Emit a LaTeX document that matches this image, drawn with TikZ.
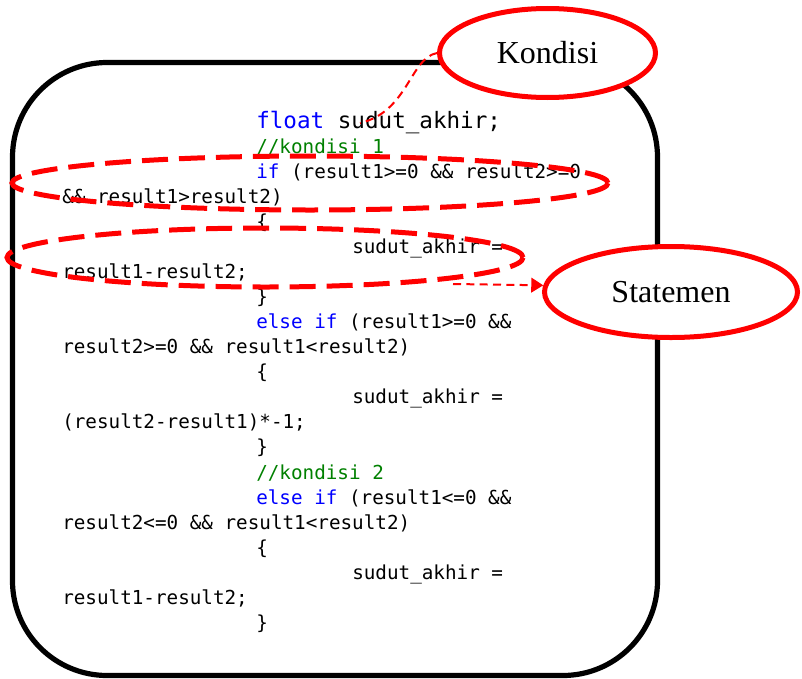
\documentclass[tikz,border=0pt]{standalone}
\usepackage{fontspec}
\setmainfont{Liberation Serif}
\newfontfamily\codefont{DejaVu Sans Mono}
\usetikzlibrary{shapes.geometric,arrows.meta}
\definecolor{kwblue}{RGB}{0,0,255}
\definecolor{cmgreen}{RGB}{0,128,0}
\definecolor{mred}{RGB}{255,0,0}
\begin{document}
\begin{tikzpicture}[x=0.75pt,y=-0.75pt,
  codeline/.style={anchor=base west,inner sep=0pt,font=\codefont\fontsize{14.45pt}{17pt}\selectfont},
  bigline/.style={anchor=base west,inner sep=0pt,font=\codefont\fontsize{16.94pt}{20pt}\selectfont},
  frame/.style={draw=black,line width=3.9pt,rounded corners=71pt},
  label/.style={ellipse,draw=mred,fill=white,line width=3.75pt,inner sep=0pt,font=\fontsize{24pt}{28pt}\selectfont},
  markell/.style={ellipse,draw=mred,line width=3.75pt,inner sep=0pt,dash pattern=on 19.5pt off 8.25pt},
  conn/.style={draw=mred,line width=1.5pt,dash pattern=on 6pt off 4pt}
]
\useasboundingbox (0,0) rectangle (802,678);
% frame
\draw[frame] (12.5,62.5) rectangle (657.5,675.5);
% code
\node[bigline] (l0) at (256,128.3) {\textcolor{kwblue}{float} sudut\_akhir;};
\node[codeline] (l1) at (256,153.35) {\textcolor{cmgreen}{//kondisi 1}};
\node[codeline] (l2) at (256,178.4) {\textcolor{kwblue}{if} (result1>=0 \&\& result2>=0};
\node[codeline] (l3) at (62,203.45) {\&\& result1>result2)};
\node[codeline] (l4) at (256,228.5) {\{};
\node[codeline] (l5) at (352,253.55) {sudut\_akhir =};
\node[codeline] (l6) at (62,278.6) {result1-result2;};
\node[codeline] (l7) at (256,303.65) {\}};
\node[codeline] (l8) at (256,328.7) {\textcolor{kwblue}{else if} (result1>=0 \&\&};
\node[codeline] (l9) at (62,353.75) {result2>=0 \&\& result1<result2)};
\node[codeline] (l10) at (256,378.8) {\{};
\node[codeline] (l11) at (352,403.85) {sudut\_akhir =};
\node[codeline] (l12) at (62,428.9) {(result2-result1)*-1;};
\node[codeline] (l13) at (256,453.95) {\}};
\node[codeline] (l14) at (256,479.0) {\textcolor{cmgreen}{//kondisi 2}};
\node[codeline] (l15) at (256,504.05) {\textcolor{kwblue}{else if} (result1<=0 \&\&};
\node[codeline] (l16) at (62,529.1) {result2<=0 \&\& result1<result2)};
\node[codeline] (l17) at (256,554.15) {\{};
\node[codeline] (l18) at (352,579.2) {sudut\_akhir =};
\node[codeline] (l19) at (62,604.25) {result1-result2;};
\node[codeline] (l20) at (256,629.3) {\}};
% label ellipses
\node[label,minimum width=162pt,minimum height=66.75pt] (kond) at (547.5,53) {Kondisi};
\node[label,minimum width=189.75pt,minimum height=68.25pt] (stmt) at (671,292) {Statemen};
% dashed marks
\node[markell,minimum width=447pt,minimum height=40.5pt] (condell) at (310,183) {};
\node[markell,minimum width=387pt,minimum height=44.25pt] (stmtell) at (265,257.5) {};
% connectors
\coordinate (kondend) at (360,123);
\coordinate (stmtstart) at (453,284);
\draw[conn] (kond.west) .. controls (410,58) and (408,112) .. (kondend);
\draw[conn,-{Triangle[length=9pt,width=11pt]}] (stmtstart) -- (stmt.177);
\end{tikzpicture}
\end{document}
